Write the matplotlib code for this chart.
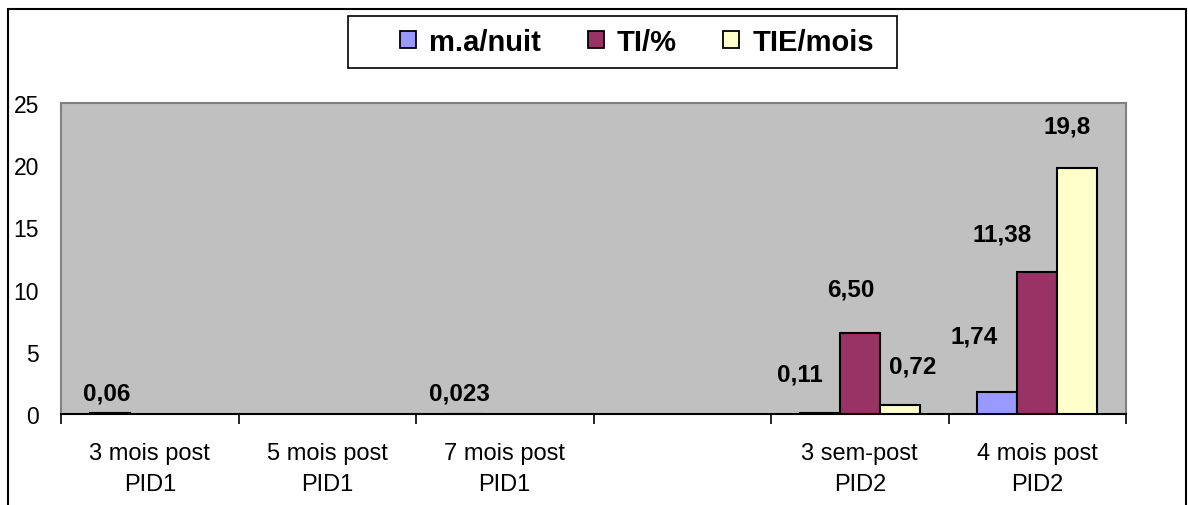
import numpy as np
import matplotlib
matplotlib.use("Agg")
import matplotlib.pyplot as plt
from matplotlib.patches import Rectangle

plt.rcParams['font.family'] = ['Liberation Sans', 'DejaVu Sans']

# data
categories = ["3 mois post\nPID1", "5 mois post\nPID1", "7 mois post\nPID1", "",
              "3 sem-post\nPID2", "4 mois post\nPID2"]
series_names = ["m.a/nuit", "TI/%", "TIE/mois"]
ma_nuit = [0.06, np.nan, 0.023, np.nan, 0.11, 1.74]
ti_pct = [np.nan, np.nan, np.nan, np.nan, 6.50, 11.38]
tie_mois = [np.nan, np.nan, np.nan, np.nan, 0.72, 19.8]
ma_labels = ["0,06", "", "0,023", "", "0,11", "1,74"]
ti_labels = ["", "", "", "", "6,50", "11,38"]
tie_labels = ["", "", "", "", "0,72", "19,8"]
yticks = [0, 5, 10, 15, 20, 25]

colors = ["#9999FF", "#993366", "#FFFFCC"]
# hand-placed label offsets (pixels, from bar top)
offsets = [
    [(-3, 20), None, (-5, 21), None, (-20, 39), (-23, 56)],
    [None, None, None, None, (-9, 44), (-35, 38)],
    [None, None, None, None, (13, 39), (-10, 42)],
]

W, H = 1188, 506
fig = plt.figure(figsize=(W / 100, H / 100), dpi=100)
ax = fig.add_axes([61 / W, 1 - 415 / H, (1126 - 61) / W, (415 - 104) / H])
ax.set_facecolor("#C0C0C0")

x = np.arange(len(categories))
bw = 0.225
all_vals = [ma_nuit, ti_pct, tie_mois]
all_labels = [ma_labels, ti_labels, tie_labels]
for i, (vals, name) in enumerate(zip(all_vals, series_names)):
    pos = x + (i - 1) * bw
    ax.bar(pos, vals, bw, color=colors[i], edgecolor="black", linewidth=1.5, label=name, zorder=3)
    for j, lab in enumerate(all_labels[i]):
        if lab and offsets[i][j] is not None:
            ax.annotate(lab, (pos[j], vals[j]), xytext=offsets[i][j], textcoords="offset pixels",
                        ha="center", va="center", fontsize=17.5, fontweight="bold", zorder=4)

ax.set_xlim(-0.5, len(categories) - 0.5)
ax.set_ylim(0, 25)
ax.set_yticks(yticks)
ax.tick_params(axis="y", length=0, pad=16, labelsize=16.5)
ax.set_xticks(x)
ax.set_xticklabels(categories, fontsize=17, linespacing=1.55)
ax.set_xticks(np.arange(len(categories) + 1) - 0.5, minor=True)
ax.tick_params(axis="x", which="major", length=0, pad=20)
ax.tick_params(axis="x", which="minor", length=7, width=1.2, color="black")

for s in ["top", "right", "left"]:
    ax.spines[s].set_color("#808080")
    ax.spines[s].set_linewidth(1.5)
ax.spines["bottom"].set_color("black")
ax.spines["bottom"].set_linewidth(1.5)

leg = fig.legend(loc="center", bbox_to_anchor=(637 / W, 1 - 43 / H), ncol=3,
                 prop={"size": 21, "weight": "bold"}, frameon=False,
                 handlelength=0.55, handleheight=0.55, handletextpad=0.45,
                 columnspacing=1.6, borderpad=0)
for p in leg.get_patches():
    p.set_linewidth(1.3)
# legend frame
fig.patches.append(Rectangle((348 / W, 1 - 69 / H), (897 - 348) / W, (69 - 17) / H,
                             transform=fig.transFigure, fill=False, edgecolor="black",
                             linewidth=1.2))

# outer chart frame
fig.patches.append(Rectangle((8 / W, -0.05), (1186 - 8) / W, 1.05 - 10 / H,
                             transform=fig.transFigure, fill=False, edgecolor="black",
                             linewidth=1.5))

fig.savefig("out.png", dpi=100)
